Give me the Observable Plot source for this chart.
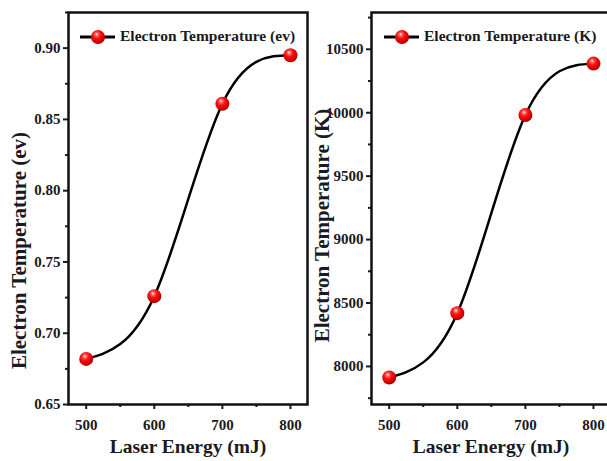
<!DOCTYPE html>
<html><head><meta charset="utf-8">
<script src="https://cdn.jsdelivr.net/npm/d3@7"></script>
<script src="https://cdn.jsdelivr.net/npm/@observablehq/plot@0.6"></script>
<style>
html,body{margin:0;padding:0;background:#fff;}
#wrap{position:relative;width:607px;height:461px;overflow:hidden;font-family:"Liberation Serif",serif;font-weight:bold;color:#111;}
.panel{position:absolute;top:0;}
.legend{position:absolute;display:flex;align-items:center;font-size:15.5px;white-space:nowrap;color:#1a1a22;}
</style></head>
<body>
<svg width="0" height="0" style="position:absolute">
<defs>
<radialGradient id="ball" cx="42%" cy="36%" r="62%" fx="40%" fy="30%">
<stop offset="0%" stop-color="#ffffff"/>
<stop offset="18%" stop-color="#ff6a6a"/>
<stop offset="45%" stop-color="#ff1010"/>
<stop offset="85%" stop-color="#d00000"/>
<stop offset="100%" stop-color="#a00000"/>
</radialGradient>
</defs></svg>
<div id="wrap"></div>
<script>
const energy = [500, 600, 700, 800];
const tempEv = [0.682, 0.726, 0.861, 0.895];
const tempK = [7913, 8420, 9982, 10387];
const xTicks = [500, 600, 700, 800];
const xMinor = [550, 650, 750];
const evTicks = [0.65, 0.70, 0.75, 0.80, 0.85, 0.90];
const evMinor = [0.675, 0.725, 0.775, 0.825, 0.875, 0.925];
const kTicks = [8000, 8500, 9000, 9500, 10000, 10500];
const kMinor = [7750, 8250, 8750, 9250, 9750, 10250, 10750];
const xTitle = "Laser Energy (mJ)";
const evTitle = "Electron Temperature (ev)";
const kTitle = "Electron Temperature (K)";

const FF = "Liberation Serif";
const INK = "#1a1a22";

function panel(values, yDomain, yTicks, yMinor, yFmt, yTitle, titleShift) {
  const data = energy.map((e, i) => ({E: e, T: values[i]}));
  return Plot.plot({
    width: 310, height: 461,
    marginLeft: 68, marginRight: 3, marginTop: 12, marginBottom: 57,
    style: `font-family: ${FF}; font-weight: bold; font-size: 15px; color: ${INK}; background: transparent;`,
    x: {domain: [474, 825]},
    y: {domain: yDomain},
    marks: [
      Plot.axisX({ticks: xTicks, tickSize: 5, tickPadding: 10, strokeWidth: 2, label: null, fontSize: 15, fontFamily: FF, fontWeight: "bold", tickFormat: d => String(d)}),
      Plot.axisX({ticks: xMinor, tickSize: 3, strokeWidth: 2, label: null, tickFormat: () => ""}),
      Plot.axisY({ticks: yTicks, tickSize: 5, tickPadding: 3, strokeWidth: 2, label: null, fontSize: 15, fontFamily: FF, fontWeight: "bold", tickFormat: yFmt}),
      Plot.axisY({ticks: yMinor, tickSize: 3, strokeWidth: 2, label: null, tickFormat: () => ""}),
      Plot.frame({stroke: "#111", strokeWidth: 2.5}),
      Plot.line(data, {x: "E", y: "T", curve: "natural", stroke: "#000", strokeWidth: 2.5}),
      Plot.dot(data, {x: "E", y: "T", r: 7, fill: "url(#ball)", stroke: "none"}),
      Plot.text([xTitle], {text: d => d, frameAnchor: "bottom", dy: 48, fontSize: 19.5, fontFamily: FF, fontWeight: "bold", fill: INK}),
      Plot.text([yTitle], {text: d => d, frameAnchor: "left", textAnchor: "middle", rotate: -90, dx: -49, dy: titleShift, fontSize: 21, fontFamily: FF, fontWeight: "bold", fill: INK})
    ]
  });
}

function legend(label, left) {
  const d = document.createElement("div");
  d.className = "legend";
  d.style.left = left + "px";
  d.style.top = "27px";
  d.innerHTML = `<svg width="37" height="18" style="margin-right:3px"><line x1="0" y1="10" x2="35" y2="10" stroke="#000" stroke-width="3"/><circle cx="18" cy="10" r="7" fill="url(#ball)"/></svg><span>${label}</span>`;
  return d;
}

const wrap = document.getElementById("wrap");
const p1 = panel(tempEv, [0.65, 0.925], evTicks, evMinor, d => d.toFixed(2), evTitle, 42);
p1.classList.add("panel"); p1.style.left = "0px";
const p2 = panel(tempK, [7700, 10790], kTicks, kMinor, d => String(d), kTitle, 17);
p2.classList.add("panel"); p2.style.left = "303px";
wrap.appendChild(p1);
wrap.appendChild(p2);
wrap.appendChild(legend(evTitle, 80));
wrap.appendChild(legend(kTitle, 384));
</script>
</body></html>
